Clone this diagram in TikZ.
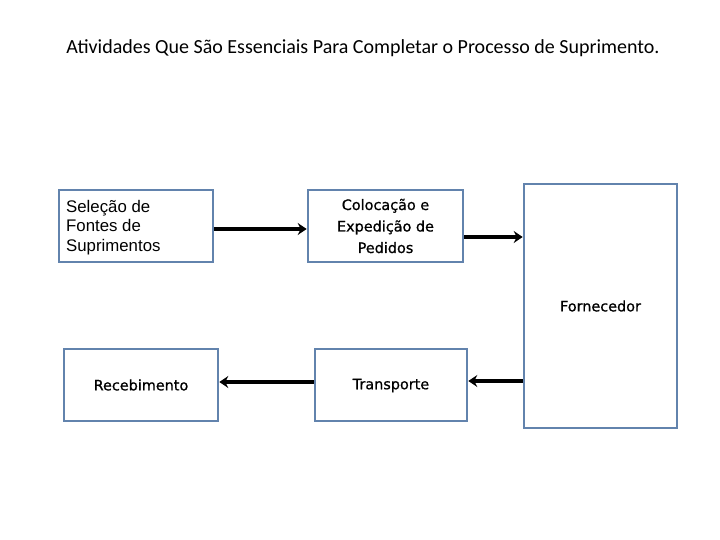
\documentclass[tikz,border=0pt]{standalone}
\usepackage{fontspec}
\setmainfont{Carlito}
\newfontfamily\arialf{Liberation Sans}
\newfontfamily\tahf[FakeBold=0.8]{DejaVu Sans}
\usetikzlibrary{arrows.meta}
\definecolor{boxblue}{HTML}{6283AD}
\begin{document}
\begin{tikzpicture}[x=1pt,y=-1pt,
  bx/.style={draw=boxblue,line width=2.6pt,fill=white,inner sep=0pt},
  arr/.style={line width=3.8pt,-{Stealth[length=9pt,width=12pt,inset=3pt]}},
  tf/.style={font=\tahf\fontsize{14.4}{21.5}\selectfont,align=center}]
\useasboundingbox (0,0) rectangle (720,540);
\node[font=\fontsize{20}{24}\selectfont] (title) at (363,48) {Atividades Que São Essenciais Para Completar o Processo de Suprimento.};
\node[bx,minimum width=154pt,minimum height=72pt] (sel) at (136,226) {};
\node[font=\arialf\fontsize{16.8}{19.5}\selectfont,align=left,anchor=north west,inner sep=0pt] (selt) at (66,200) {Seleção de\\Fontes de\\Suprimentos};
\node[bx,minimum width=155pt,minimum height=72pt,tf] (col) at (385.5,226) {Colocação e\\Expedição de\\Pedidos};
\node[bx,minimum width=153pt,minimum height=244pt,tf] (forn) at (600.5,306) {Fornecedor};
\node[bx,minimum width=154pt,minimum height=72pt,tf] (rec) at (141,385) {Recebimento};
\node[bx,minimum width=152pt,minimum height=72pt,tf,text depth=2pt] (tra) at (391,385) {Transporte};
\draw[arr] (sel.east |- 0,229) -- (col.west |- 0,229);
\draw[arr] (col.east |- 0,237) -- (forn.west |- 0,237);
\draw[arr] (forn.west |- 0,381) -- (tra.east |- 0,381);
\draw[arr] (tra.west |- 0,382) -- (rec.east |- 0,382);
\end{tikzpicture}
\end{document}
